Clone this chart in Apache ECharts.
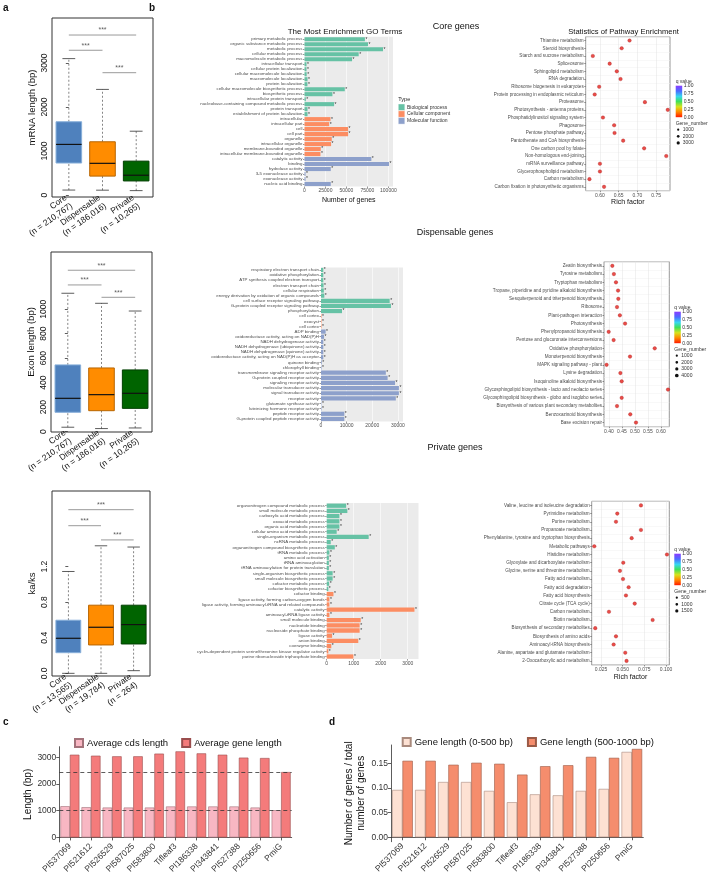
<!DOCTYPE html>
<html><head><meta charset="utf-8">
<script src="https://cdn.jsdelivr.net/npm/echarts@6/dist/echarts.min.js"></script>
<style>html,body{margin:0;padding:0;background:#fff}#c{width:710px;height:876px}</style>
</head><body><div id="c"></div>
<script>
// ---------------- DATA ----------------
const boxGroups = ['Core', 'Dispensable', 'Private'];
const mrnaN = ['210,767', '186,016', '10,265'];
const mrnaStats = [[113, 727, 1150, 1665, 3100], [110, 430, 720, 1210, 2400], [100, 320, 450, 770, 1450]];
const mrnaTicks = [0, 1000, 2000, 3000];
const mrnaSig = [[0, 1, 3290], [1, 2, 2780], [0, 2, 3636]];
const exonN = ['210,767', '186,016', '10,265'];
const exonStats = [[36, 158, 272, 545, 1130], [25, 171, 302, 520, 1048], [30, 190, 313, 504, 985]];
const exonTicks = [0, 200, 400, 600, 800, 1000];
const exonSig = [[0, 1, 1198], [1, 2, 1097], [0, 2, 1318]];
const kaksN = ['13,565', '19,784', '264'];
const kaksStats = [[0, 0.232, 0.394, 0.597, 1.145], [0, 0.319, 0.518, 0.766, 1.434], [0.03, 0.33, 0.548, 0.766, 1.42]];
const kaksTicks = [0, 0.4, 0.8, 1.2];
const kaksSig = [[0, 1, 1.66], [1, 2, 1.50], [0, 2, 1.84]];

const goTypes = ['Biological process', 'Cellular component', 'Molecular function'];
const coreGoTerms = ['primary metabolic process', 'organic substance metabolic process', 'metabolic process', 'cellular metabolic process', 'macromolecule metabolic process', 'intracellular transport', 'cellular protein localization', 'cellular macromolecule localization', 'macromolecule localization', 'protein localization', 'cellular macromolecule biosynthetic process', 'biosynthetic process', 'intracellular protein transport', 'nucleobase-containing compound metabolic process', 'protein transport', 'establishment of protein localization', 'intracellular', 'intracellular part', 'cell', 'cell part', 'organelle', 'intracellular organelle', 'membrane-bounded organelle', 'intracellular membrane-bounded organelle', 'catalytic activity', 'binding', 'hydrolase activity', '3-5 exonuclease activity', 'exonuclease activity', 'nucleic acid binding'];
const coreGoCounts = [72000, 75700, 93600, 64600, 56700, 2400, 2400, 2600, 3600, 3500, 48000, 33300, 1600, 35300, 3600, 3600, 31000, 29400, 52000, 52000, 32500, 31700, 19400, 19000, 79700, 100700, 31300, 1200, 1200, 31300];
const coreGoTypeSizes = [16, 8, 6];
const coreGoTicks = [0, 25000, 50000, 75000, 100000];

const dispGoTerms = ['respiratory electron transport chain', 'oxidative phosphorylation', 'ATP synthesis coupled electron transport', 'electron transport chain', 'cellular respiration', 'energy derivation by oxidation of organic compounds', 'cell surface receptor signaling pathway', 'G-protein coupled receptor signaling pathway', 'phosphorylation', 'cell cortex', 'exocyst', 'cell cortex', 'ADP binding', 'oxidoreductase activity, acting on NAD(P)H', 'NADH dehydrogenase activity', 'NADH dehydrogenase (ubiquinone) activity', 'NADH dehydrogenase (quinone) activity', 'oxidoreductase activity, acting on NAD(P)H as acceptor', 'quinone binding', 'chlorophyll binding', 'transmembrane signaling receptor activity', 'G-protein coupled receptor activity', 'signaling receptor activity', 'molecular transducer activity', 'signal transducer activity', 'receptor activity', 'glutamate synthase activity', 'luteinizing hormone receptor activity', 'peptide receptor activity', 'G-protein coupled peptide receptor activity'];
const dispGoCounts = [900, 900, 900, 1000, 1100, 1300, 26800, 27300, 8200, 200, 200, 200, 1800, 1200, 900, 900, 900, 900, 300, 200, 25300, 26000, 28900, 30400, 30400, 29200, 150, 200, 9100, 9100];
const dispGoTypeSizes = [9, 3, 18];
const dispGoTicks = [0, 10000, 20000, 30000];

const privGoTerms = ['organonitrogen compound metabolic process', 'small molecule metabolic process', 'carboxylic acid metabolic process', 'oxoacid metabolic process', 'organic acid metabolic process', 'cellular amino acid metabolic process', 'single-organism metabolic process', 'ncRNA metabolic process', 'organonitrogen compound biosynthetic process', 'tRNA metabolic process', 'amino acid activation', 'tRNA aminoacylation', 'tRNA aminoacylation for protein translation', 'single-organism biosynthetic process', 'small molecule biosynthetic process', 'cofactor metabolic process', 'cofactor biosynthetic process', 'cofactor binding', 'ligase activity, forming carbon-oxygen bonds', 'ligase activity, forming aminoacyl-tRNA and related compounds', 'catalytic activity', 'aminoacyl-tRNA ligase activity', 'small molecule binding', 'nucleotide binding', 'nucleoside phosphate binding', 'ligase activity', 'anion binding', 'coenzyme binding', 'cyclin-dependent protein serine/threonine kinase regulator activity', 'purine ribonucleoside triphosphate binding'];
const privGoCounts = [720, 765, 470, 470, 470, 370, 1555, 150, 300, 100, 80, 80, 80, 220, 220, 90, 60, 250, 100, 100, 3250, 100, 1260, 1220, 1220, 200, 1170, 170, 60, 990];
const privGoTypeSizes = [17, 13, 0];
const privGoTicks = [0, 1000, 2000, 3000];

const corePathways = ['Thiamine metabolism', 'Steroid biosynthesis', 'Starch and sucrose metabolism', 'Spliceosome', 'Sphingolipid metabolism', 'RNA degradation', 'Ribosome biogenesis in eukaryotes', 'Protein processing in endoplasmic reticulum', 'Proteasome', 'Photosynthesis - antenna proteins', 'Phosphatidylinositol signaling system', 'Phagosome', 'Pentose phosphate pathway', 'Pantothenate and CoA biosynthesis', 'One carbon pool by folate', 'Non-homologous end-joining', 'mRNA surveillance pathway', 'Glycerophospholipid metabolism', 'Carbon metabolism', 'Carbon fixation in photosynthetic organisms'];
const coreRich = [0.679, 0.658, 0.581, 0.626, 0.645, 0.655, 0.598, 0.586, 0.720, 0.781, 0.608, 0.638, 0.639, 0.662, 0.718, 0.777, 0.600, 0.600, 0.572, 0.611];
const coreRichTicks = [0.60, 0.65, 0.70, 0.75];
const coreGeneLegend = ['1000', '2000', '3000'];

const dispPathways = ['Zeatin biosynthesis', 'Tyrosine metabolism', 'Tryptophan metabolism', 'Tropane, piperidine and pyridine alkaloid biosynthesis', 'Sesquiterpenoid and triterpenoid biosynthesis', 'Ribosome', 'Plant-pathogen interaction', 'Photosynthesis', 'Phenylpropanoid biosynthesis', 'Pentose and glucuronate interconversions', 'Oxidative phosphorylation', 'Monoterpenoid biosynthesis', 'MAPK signaling pathway - plant', 'Lysine degradation', 'Isoquinoline alkaloid biosynthesis', 'Glycosphingolipid biosynthesis - lacto and neolacto series', 'Glycosphingolipid biosynthesis - globo and isoglobo series', 'Biosynthesis of various plant secondary metabolites', 'Benzoxazinoid biosynthesis', 'Base excision repair'];
const dispRich = [0.413, 0.419, 0.427, 0.435, 0.436, 0.431, 0.442, 0.462, 0.399, 0.418, 0.576, 0.481, 0.391, 0.444, 0.449, 0.627, 0.449, 0.431, 0.482, 0.504];
const dispRichTicks = [0.40, 0.45, 0.50, 0.55, 0.60];
const dispGeneLegend = ['1000', '2000', '3000', '4000'];

const privPathways = ['Valine, leucine and isoleucine degradation', 'Pyrimidine metabolism', 'Purine metabolism', 'Propanoate metabolism', 'Phenylalanine, tyrosine and tryptophan biosynthesis', 'Metabolic pathways', 'Histidine metabolism', 'Glyoxylate and dicarboxylate metabolism', 'Glycine, serine and threonine metabolism', 'Fatty acid metabolism', 'Fatty acid degradation', 'Fatty acid biosynthesis', 'Citrate cycle (TCA cycle)', 'Carbon metabolism', 'Biotin metabolism', 'Biosynthesis of secondary metabolites', 'Biosynthesis of amino acids', 'Aminoacyl-tRNA biosynthesis', 'Alanine, aspartate and glutamate metabolism', '2-Oxocarboxylic acid metabolism'];
const privRich = [0.0711, 0.0438, 0.0423, 0.0711, 0.0604, 0.0173, 0.1011, 0.0507, 0.0469, 0.0504, 0.0569, 0.0538, 0.0639, 0.0342, 0.0846, 0.0184, 0.0423, 0.0396, 0.0530, 0.0545];
const privRichTicks = [0.025, 0.050, 0.075, 0.100];
const privGeneLegend = ['500', '1000', '1500'];

const accessions = ['PI537069', 'PI521612', 'PI526529', 'PI587025', 'PI583800', 'Tifleaf3', 'PI186338', 'PI343841', 'PI527388', 'PI250656', 'PmiG'];
const cdsLen = [1170, 1133, 1120, 1120, 1120, 1160, 1160, 1160, 1160, 1120, 1020];
const geneLen = [3100, 3063, 3040, 3040, 3140, 3225, 3150, 3100, 2990, 2975, 2450];
const lenTicks = [0, 1000, 2000, 3000];
const frac0to500 = [0.096, 0.096, 0.112, 0.112, 0.094, 0.071, 0.087, 0.085, 0.094, 0.098, 0.173];
const frac500to1000 = [0.155, 0.155, 0.147, 0.151, 0.149, 0.127, 0.144, 0.146, 0.163, 0.161, 0.179];
const fracTicks = [0, 0.05, 0.10, 0.15];

// ---------------- STYLE / BUILD ----------------
const FONT = '"Liberation Sans", Arial, Helvetica, sans-serif';
const boxFill = ['#4f81bd', '#ff8c00', '#006400'];
const boxEdge = ['#86aed9', '#b86500', '#003f00'];
const goColors = ['#66c2a5', '#fc8d62', '#8da0cb'];

const grids = [], xAxes = [], yAxes = [], series = [], graphics = [];
function addGrid(g) { grids.push(Object.assign({ show: false }, g)); return grids.length - 1; }
function addX(a) { xAxes.push(a); return xAxes.length - 1; }
function addY(a) { yAxes.push(a); return yAxes.length - 1; }

function boxRender(params, api) {
  const i = api.value(0);
  const pMin = api.coord([i, api.value(1)]);
  const pQ1 = api.coord([i, api.value(2)]);
  const pMed = api.coord([i, api.value(3)]);
  const pQ3 = api.coord([i, api.value(4)]);
  const pMax = api.coord([i, api.value(5)]);
  const bw = api.size([1, 0])[0] * 0.76;
  const cx = pMed[0];
  const dash = { stroke: '#666', lineWidth: 0.8, lineDash: [2, 2] };
  const cap = { stroke: '#333', lineWidth: 0.8 };
  return {
    type: 'group', children: [
      { type: 'line', shape: { x1: cx, y1: pMin[1], x2: cx, y2: pQ1[1] }, style: dash },
      { type: 'line', shape: { x1: cx, y1: pQ3[1], x2: cx, y2: pMax[1] }, style: dash },
      { type: 'line', shape: { x1: cx - bw / 4, y1: pMin[1], x2: cx + bw / 4, y2: pMin[1] }, style: cap },
      { type: 'line', shape: { x1: cx - bw / 4, y1: pMax[1], x2: cx + bw / 4, y2: pMax[1] }, style: cap },
      { type: 'rect', shape: { x: cx - bw / 2, y: pQ3[1], width: bw, height: pQ1[1] - pQ3[1] }, style: { fill: boxFill[i], stroke: boxEdge[i], lineWidth: 1 } },
      { type: 'line', shape: { x1: cx - bw / 2, y1: pMed[1], x2: cx + bw / 2, y2: pMed[1] }, style: { stroke: '#111', lineWidth: 1.2 } }
    ]
  };
}

function boxPanel(cfg) {
  const gi = addGrid({ left: cfg.left, top: cfg.top, width: cfg.width, height: cfg.height, show: true, borderColor: '#333', borderWidth: 1, backgroundColor: 'transparent' });
  const xi = addX({ type: 'category', gridIndex: gi, data: boxGroups.map((g, i) => g + '\n(n = ' + cfg.n[i] + ')'),
    axisLine: { show: false }, axisTick: { show: false },
    axisLabel: { rotate: 35, fontSize: 8.5, color: '#111', margin: 4, interval: 0, lineHeight: 10 } });
  const xh = addX({ type: 'value', gridIndex: gi, min: -0.5, max: 2.5, show: false });
  const yi = addY({ type: 'value', gridIndex: gi, min: cfg.min, max: cfg.max, name: cfg.name, nameLocation: 'middle', nameGap: cfg.nameGap,
    nameTextStyle: { fontSize: 9.5, color: '#111' }, axisLine: { show: false },
    axisTick: { show: true, length: 3, lineStyle: { color: '#333', width: 0.8 }, customValues: cfg.ticks },
    axisLabel: { rotate: 90, fontSize: 8.5, color: '#111', margin: 3, customValues: cfg.ticks, formatter: cfg.fmt },
    splitLine: { show: false } });
  series.push({ type: 'custom', xAxisIndex: xi, yAxisIndex: yi, renderItem: boxRender,
    data: cfg.stats.map((s, i) => [i].concat(s)), encode: { x: 0, y: [1, 2, 3, 4, 5] }, z: 3, silent: true });
  cfg.sig.forEach(s => {
    series.push({ type: 'line', xAxisIndex: xh, yAxisIndex: yi, data: [[s[0], s[2]], [s[1], s[2]]], symbol: 'none',
      lineStyle: { color: '#808080', width: 0.8 }, silent: true });
    series.push({ type: 'scatter', xAxisIndex: xh, yAxisIndex: yi, data: [[(s[0] + s[1]) / 2, s[2]]], symbolSize: 0,
      label: { show: true, position: 'top', distance: 1, formatter: '***', fontSize: 7, color: '#333' }, silent: true });
  });
}

function goPanel(cfg) {
  const gi = addGrid({ left: cfg.left, top: cfg.top, width: cfg.width, height: cfg.height, show: true, backgroundColor: '#ebebeb', borderWidth: 0 });
  const xi = addX({ type: 'value', gridIndex: gi, min: 0, max: cfg.max, name: cfg.xname || '', nameLocation: 'middle', nameGap: 10,
    nameTextStyle: { fontSize: 7, color: '#111' }, axisLine: { show: false },
    axisTick: { show: true, length: 1.5, lineStyle: { color: '#333', width: 0.5 }, customValues: cfg.ticks },
    axisLabel: { fontSize: 5, color: '#4d4d4d', margin: 2, customValues: cfg.ticks, formatter: v => String(v) },
    splitLine: { show: true, lineStyle: { color: '#ffffff', width: 0.6 }, customValues: cfg.ticks } });
  const yi = addY({ type: 'category', gridIndex: gi, inverse: true, data: cfg.terms, axisLine: { show: false },
    axisTick: { show: true, length: 1.5, alignWithLabel: true, lineStyle: { color: '#333', width: 0.5 } },
    axisLabel: { fontSize: 4.4, color: '#4d4d4d', margin: 2, interval: 0 }, splitLine: { show: false } });
  const colors = [];
  cfg.sizes.forEach((n, k) => { for (let j = 0; j < n; j++) colors.push(goColors[k]); });
  series.push({ type: 'bar', xAxisIndex: xi, yAxisIndex: yi, barCategoryGap: '18%',
    data: cfg.values.map((v, i) => ({ value: v, itemStyle: { color: colors[i] } })),
    label: { show: true, position: 'right', formatter: '*', fontSize: 5, distance: 0.5, color: '#333' }, silent: true });
}

function dotPanel(cfg) {
  const gi = addGrid({ left: cfg.left, top: cfg.top, width: cfg.width, height: cfg.height, show: true, backgroundColor: '#fff', borderColor: '#7f7f7f', borderWidth: 0.8 });
  const xi = addX({ type: 'value', gridIndex: gi, min: cfg.min, max: cfg.max, name: cfg.xname || '', nameLocation: 'middle', nameGap: cfg.nameGap || 8,
    nameTextStyle: { fontSize: 7, color: '#111' }, axisLine: { show: false },
    axisTick: { show: true, length: 1.5, lineStyle: { color: '#333', width: 0.5 }, customValues: cfg.ticks },
    axisLabel: { fontSize: 5, color: '#4d4d4d', margin: 2, customValues: cfg.ticks, formatter: v => v.toFixed(cfg.dec) },
    splitLine: { show: true, lineStyle: { color: '#e3e3e3', width: 0.5 }, customValues: cfg.ticks } });
  const yi = addY({ type: 'category', gridIndex: gi, inverse: true, data: cfg.names, axisLine: { show: false },
    axisTick: { show: true, length: 1.5, alignWithLabel: true, lineStyle: { color: '#333', width: 0.5 } },
    axisLabel: { fontSize: 4.6, color: '#4d4d4d', margin: 2, interval: 0 },
    splitLine: { show: true, lineStyle: { color: '#f0f0f0', width: 0.5 } } });
  series.push({ type: 'scatter', xAxisIndex: xi, yAxisIndex: yi, data: cfg.values.map((v, i) => [v, i]), symbolSize: 3.6,
    itemStyle: { color: '#e3211c', borderColor: '#8b0000', borderWidth: 0.3 }, silent: true });
}

function txt(x, y, text, size, opts) {
  graphics.push(Object.assign({ type: 'text', x: x, y: y, silent: true,
    style: Object.assign({ text: text, fontSize: size, fontFamily: FONT, fill: '#111', align: 'left', verticalAlign: 'middle' }, (opts || {}).style || {}) }, {}));
}

function qLegend(x, y, geneLabels) {
  txt(x, y, 'q value', 5, { style: { fill: '#333' } });
  const top = y + 4, h = 31.5;
  graphics.push({ type: 'rect', silent: true, shape: { x: x, y: top, width: 6.5, height: h },
    style: { fill: new echarts.graphic.LinearGradient(0, 0, 0, 1, [
      { offset: 0, color: '#8a3cff' }, { offset: 0.17, color: '#4b6bff' }, { offset: 0.34, color: '#36d7f0' },
      { offset: 0.5, color: '#3ee05a' }, { offset: 0.67, color: '#d8e21c' }, { offset: 0.83, color: '#ff8a00' }, { offset: 1, color: '#ff1a00' }]) } });
  ['1.00', '0.75', '0.50', '0.25', '0.00'].forEach((t, k) => txt(x + 8, top + k * h / 4, t, 5, { style: { fill: '#333' } }));
  const gy = top + h + 6;
  txt(x, gy, 'Gene_number', 5, { style: { fill: '#333' } });
  geneLabels.forEach((t, k) => {
    graphics.push({ type: 'circle', silent: true, shape: { cx: x + 2.5, cy: gy + 6.5 + k * 6.6, r: 1.1 + 0.25 * k }, style: { fill: '#111' } });
    txt(x + 7, gy + 6.5 + k * 6.6, t, 5, { style: { fill: '#333' } });
  });
}

// ---- Panel a
boxPanel({ left: 52, top: 18, width: 101, height: 179, min: -45, max: 4023, ticks: mrnaTicks, fmt: v => String(v),
  name: 'mRNA length (bp)', nameGap: 15, n: mrnaN, stats: mrnaStats, sig: mrnaSig });
boxPanel({ left: 51, top: 252, width: 101, height: 180, min: -3, max: 1467, ticks: exonTicks, fmt: v => String(v),
  name: 'Exon length (bp)', nameGap: 15, n: exonN, stats: exonStats, sig: exonSig });
boxPanel({ left: 52, top: 491, width: 98, height: 185, min: -0.03, max: 2.05, ticks: kaksTicks, fmt: v => v.toFixed(1),
  name: 'ka/ks', nameGap: 15, n: kaksN, stats: kaksStats, sig: kaksSig });

// ---- Panel b: GO bars
goPanel({ left: 304.5, top: 36.8, width: 88.5, height: 149.7, max: 105500, ticks: coreGoTicks, terms: coreGoTerms, values: coreGoCounts, sizes: coreGoTypeSizes, xname: 'Number of genes' });
goPanel({ left: 321, top: 267.4, width: 82, height: 154.1, max: 32000, ticks: dispGoTicks, terms: dispGoTerms, values: dispGoCounts, sizes: dispGoTypeSizes });
goPanel({ left: 326.7, top: 503.1, width: 91.8, height: 156, max: 3400, ticks: privGoTicks, terms: privGoTerms, values: privGoCounts, sizes: privGoTypeSizes });

// ---- Panel b: pathway dots
dotPanel({ left: 585.7, top: 36.7, width: 84.3, height: 154, min: 0.562, max: 0.787, ticks: coreRichTicks, dec: 2, names: corePathways, values: coreRich, xname: 'Rich factor', nameGap: 8 });
dotPanel({ left: 604, top: 261.7, width: 65.3, height: 165, min: 0.381, max: 0.632, ticks: dispRichTicks, dec: 2, names: dispPathways, values: dispRich });
dotPanel({ left: 591.7, top: 501.3, width: 77.6, height: 163.7, min: 0.0143, max: 0.1038, ticks: privRichTicks, dec: 3, names: privPathways, values: privRich, xname: 'Rich factor', nameGap: 9 });

// ---- Panel c
const gc = addGrid({ left: 59.3, top: 746.7, width: 232.4, height: 96 });
const xc = addX({ type: 'category', gridIndex: gc, data: accessions,
  axisLine: { show: true, lineStyle: { color: '#333', width: 0.8 } },
  axisTick: { show: true, alignWithLabel: true, length: 3, lineStyle: { color: '#333', width: 0.8 } },
  axisLabel: { rotate: 45, fontSize: 8.5, color: '#333', margin: 3, interval: 0 } });
const yc = addY({ type: 'value', gridIndex: gc, min: -170, max: 3400, name: 'Length (bp)', nameLocation: 'middle', nameGap: 23,
  nameTextStyle: { fontSize: 10, color: '#111' },
  axisLine: { show: true, lineStyle: { color: '#333', width: 0.8 } },
  axisTick: { show: true, length: 3, lineStyle: { color: '#333', width: 0.8 }, customValues: lenTicks },
  axisLabel: { fontSize: 8.5, color: '#333', margin: 3, customValues: lenTicks, formatter: v => String(v) }, splitLine: { show: false } });
series.push({ type: 'bar', name: 'Average cds length', xAxisIndex: xc, yAxisIndex: yc, data: cdsLen, barGap: '0%', barCategoryGap: '10%',
  itemStyle: { color: '#f8b7c3', borderColor: '#a3727a', borderWidth: 0.6 }, silent: true });
series.push({ type: 'bar', name: 'Average gene length', xAxisIndex: xc, yAxisIndex: yc, data: geneLen, barGap: '0%', barCategoryGap: '10%',
  itemStyle: { color: '#f47b7b', borderColor: '#9a4d4d', borderWidth: 0.6 }, silent: true,
  markLine: { silent: true, symbol: 'none', z: 6, label: { show: false }, lineStyle: { type: [4, 3], color: '#333', width: 0.8 },
    data: [{ yAxis: geneLen[geneLen.length - 1] }, { yAxis: cdsLen[cdsLen.length - 1] }] } });

// ---- Panel d
const gd = addGrid({ left: 391, top: 745, width: 252.3, height: 96.7 });
const xd = addX({ type: 'category', gridIndex: gd, data: accessions,
  axisLine: { show: true, lineStyle: { color: '#333', width: 0.8 } },
  axisTick: { show: true, alignWithLabel: true, length: 3, lineStyle: { color: '#333', width: 0.8 } },
  axisLabel: { rotate: 45, fontSize: 8.5, color: '#333', margin: 3, interval: 0 } });
const yd = addY({ type: 'value', gridIndex: gd, min: -0.009, max: 0.187, name: 'Number of genes / total\nnumber of genes', nameLocation: 'middle', nameGap: 24,
  nameTextStyle: { fontSize: 10, color: '#111', lineHeight: 12 },
  axisLine: { show: true, lineStyle: { color: '#333', width: 0.8 } },
  axisTick: { show: true, length: 3, lineStyle: { color: '#333', width: 0.8 }, customValues: fracTicks },
  axisLabel: { fontSize: 8.5, color: '#333', margin: 3, customValues: fracTicks, formatter: v => v.toFixed(2) }, splitLine: { show: false } });
series.push({ type: 'bar', name: 'Gene length (0-500 bp)', xAxisIndex: xd, yAxisIndex: yd, data: frac0to500, barGap: '0%', barCategoryGap: '10%',
  itemStyle: { color: '#fde1d3', borderColor: '#a98a7d', borderWidth: 0.6 }, silent: true });
series.push({ type: 'bar', name: 'Gene length (500-1000 bp)', xAxisIndex: xd, yAxisIndex: yd, data: frac500to1000, barGap: '0%', barCategoryGap: '10%',
  itemStyle: { color: '#f58d6d', borderColor: '#9a5a46', borderWidth: 0.6 }, silent: true });

// ---- Text & legends
txt(3, 8, 'a', 10, { style: { fontWeight: 'bold' } });
txt(149, 8, 'b', 10, { style: { fontWeight: 'bold' } });
txt(3, 722, 'c', 10, { style: { fontWeight: 'bold' } });
txt(329, 722, 'd', 10, { style: { fontWeight: 'bold' } });
txt(456, 27, 'Core genes', 9, { style: { align: 'center' } });
txt(455, 233, 'Dispensable genes', 9, { style: { align: 'center' } });
txt(455, 448, 'Private genes', 9, { style: { align: 'center' } });
txt(345, 31.5, 'The Most Enrichment GO Terms', 8, { style: { align: 'center' } });
txt(623.5, 32, 'Statistics of Pathway Enrichment', 7.6, { style: { align: 'center' } });
// GO type legend
txt(398.3, 99.5, 'Type', 5.5, { style: { fill: '#222' } });
goTypes.forEach((t, k) => {
  graphics.push({ type: 'rect', silent: true, shape: { x: 398.3, y: 104 + k * 6.8, width: 6.5, height: 6.5 }, style: { fill: goColors[k], stroke: '#fff', lineWidth: 0.4 } });
  txt(407, 107.3 + k * 6.8, t, 5, { style: { fill: '#333' } });
});
qLegend(675.7, 81.7, coreGeneLegend);
qLegend(674.3, 307.7, dispGeneLegend);
qLegend(674.3, 549.7, privGeneLegend);

const option = {
  animation: false,
  backgroundColor: '#fff',
  textStyle: { fontFamily: FONT },
  grid: grids, xAxis: xAxes, yAxis: yAxes, series: series, graphic: graphics,
  legend: [
    { left: 69, top: 733, itemWidth: 8, itemHeight: 8, itemGap: 13, icon: 'rect', selectedMode: false,
      textStyle: { fontSize: 9.5, color: '#111', padding: [0, 0, 0, -1] }, data: ['Average cds length', 'Average gene length'] },
    { left: 396.7, top: 732, itemWidth: 8, itemHeight: 8, itemGap: 14, icon: 'rect', selectedMode: false,
      textStyle: { fontSize: 9.5, color: '#111', padding: [0, 0, 0, -1] }, data: ['Gene length (0-500 bp)', 'Gene length (500-1000 bp)'] }
  ]
};
const chart = echarts.init(document.getElementById('c'), null, { renderer: 'canvas' });
chart.setOption(option);
</script>
</body></html>
